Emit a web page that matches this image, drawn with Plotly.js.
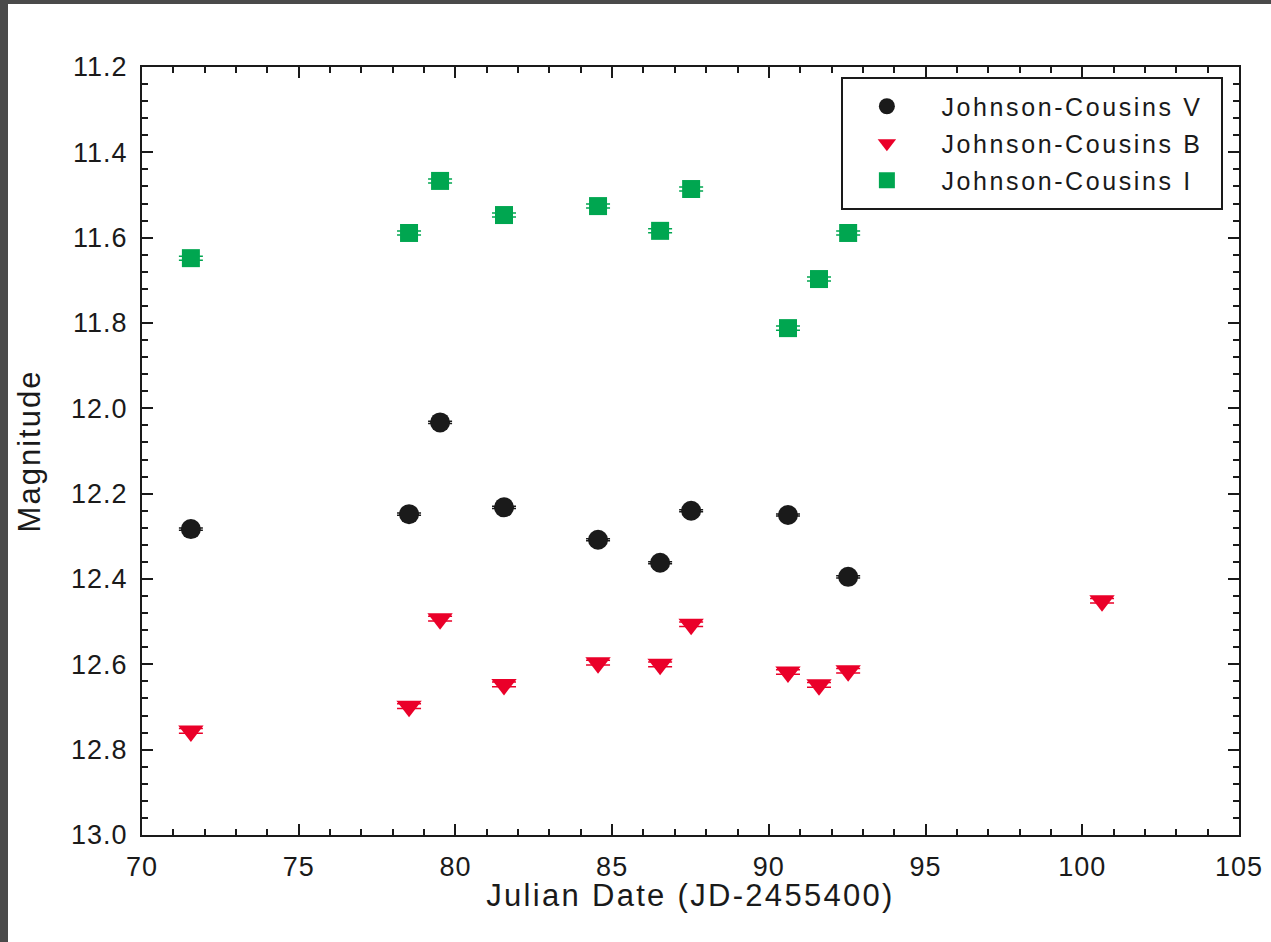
<!DOCTYPE html>
<html>
<head>
<meta charset="utf-8">
<script src="https://cdn.plot.ly/plotly-3.0.1.min.js"></script>
<style>
  html, body { margin: 0; padding: 0; background: #ffffff; }
  #chart { position: absolute; left: 0; top: 0; width: 1271px; height: 942px; }
  .frame-top { position: absolute; left: 0; top: 0; width: 1271px; height: 4px; background: #4a4a4a; z-index: 5; }
  .frame-left { position: absolute; left: 0; top: 0; width: 8px; height: 942px; background: #4a4a4a; z-index: 5; }
  .xtick text, .ytick text { letter-spacing: 1px; }
  .legendtext { letter-spacing: 2.6px; }
  .g-xtitle { transform: translate(0px, 3px) !important; }
  text.xtitle { letter-spacing: 2.3px; }
  text.ytitle { letter-spacing: 2px; }
</style>
</head>
<body>
<div id="chart"></div>
<div class="frame-top"></div>
<div class="frame-left"></div>
<script>
// Julian Date (JD-2455400)
const dateV = [71.56, 78.52, 79.51, 81.55, 84.55, 86.53, 87.52, 90.61, 92.53];
const magV  = [12.283, 12.248, 12.033, 12.232, 12.308, 12.362, 12.240, 12.250, 12.395];
const errV  = [0.0025, 0.0025, 0.0025, 0.0025, 0.0025, 0.0025, 0.0025, 0.0025, 0.0025];

const dateB = [71.56, 78.52, 79.51, 81.55, 84.55, 86.53, 87.52, 90.61, 91.60, 92.53, 100.63];
const magB  = [12.756, 12.698, 12.493, 12.647, 12.596, 12.600, 12.506, 12.618, 12.648, 12.615, 12.451];
const errB  = [0.0055, 0.0055, 0.0055, 0.0055, 0.0055, 0.0055, 0.0055, 0.0055, 0.0055, 0.0055, 0.0055];

const dateI = [71.56, 78.52, 79.51, 81.55, 84.55, 86.53, 87.52, 90.61, 91.60, 92.53];
const magI  = [11.648, 11.589, 11.467, 11.547, 11.526, 11.584, 11.486, 11.812, 11.697, 11.589];
const errI  = [0.0047, 0.0047, 0.0047, 0.0047, 0.0047, 0.0047, 0.0047, 0.0047, 0.0047, 0.0047];

const seriesNames = ['Johnson-Cousins V', 'Johnson-Cousins B', 'Johnson-Cousins I'];

const FONT = '"Liberation Sans", Arial, sans-serif';
const INK = '#1a1a1a';
const BLACK = 'rgb(26,26,26)';
const RED = 'rgb(234,0,41)';
const GREEN = 'rgb(0,166,80)';

function trace(x, y, err, name, color, symbol, size, grp) {
  return {
    type: 'scatter', mode: 'markers', x: x, y: y, name: '\u00a0' + name,
    legendgroup: grp,
    marker: { color: color, symbol: symbol, size: size, line: { width: 0 } },
    error_y: { type: 'data', array: err, visible: true, color: color, thickness: 1.5, width: 12 }
  };
}

const data = [
  trace(dateV, magV, errV, seriesNames[0], BLACK, 'circle', 20, 'v'),
  trace(dateB, magB, errB, seriesNames[1], RED, 'triangle-down', 22, 'b'),
  trace(dateI, magI, errI, seriesNames[2], GREEN, 'square', 18, 'i')
];

const axisCommon = {
  showline: true, linecolor: INK, linewidth: 2, mirror: 'ticks',
  ticks: 'inside', ticklen: 11, tickwidth: 2, tickcolor: INK,
  showgrid: false, zeroline: false,
  tickfont: { family: FONT, size: 27, color: INK }
};

const layout = {
  width: 1271, height: 942,
  margin: { l: 142, r: 32, t: 67, b: 107 },
  paper_bgcolor: '#ffffff', plot_bgcolor: '#ffffff',
  font: { family: FONT, color: INK },
  showlegend: true,
  xaxis: Object.assign({}, axisCommon, {
    range: [70, 105], dtick: 5, tick0: 70,
    minor: { dtick: 1, ticks: 'inside', ticklen: 6, tickwidth: 2, tickcolor: INK, showgrid: false },
    ticklabelstandoff: 7,
    title: { text: 'Julian Date (JD-2455400)', font: { family: FONT, size: 31, color: INK }, standoff: 0 }
  }),
  yaxis: Object.assign({}, axisCommon, {
    range: [13.0, 11.2], dtick: 0.2, tick0: 11.2, tickformat: '.1f',
    minor: { dtick: 0.04, ticks: 'inside', ticklen: 6, tickwidth: 2, tickcolor: INK, showgrid: false },
    ticklabelstandoff: 7,
    title: { text: 'Magnitude', font: { family: FONT, size: 31, color: INK }, standoff: 21 }
  }),
  shapes: [{
    type: 'rect', xref: 'paper', yref: 'paper',
    x0: (842 - 142) / 1097, x1: (1222 - 142) / 1097,
    y0: (835 - 209) / 768, y1: (835 - 78) / 768,
    line: { color: INK, width: 2 }, fillcolor: '#ffffff', layer: 'above'
  }],
  legend: {
    x: 0.638, y: (835 - 83.5) / 768, xanchor: 'left', yanchor: 'top',
    bgcolor: 'rgba(0,0,0,0)', borderwidth: 0,
    font: { family: FONT, size: 25, color: INK },
    itemwidth: 80, traceorder: 'grouped', tracegroupgap: 1.5
  }
};

Plotly.newPlot('chart', data, layout, { displayModeBar: false, staticPlot: true });
</script>
</body>
</html>
